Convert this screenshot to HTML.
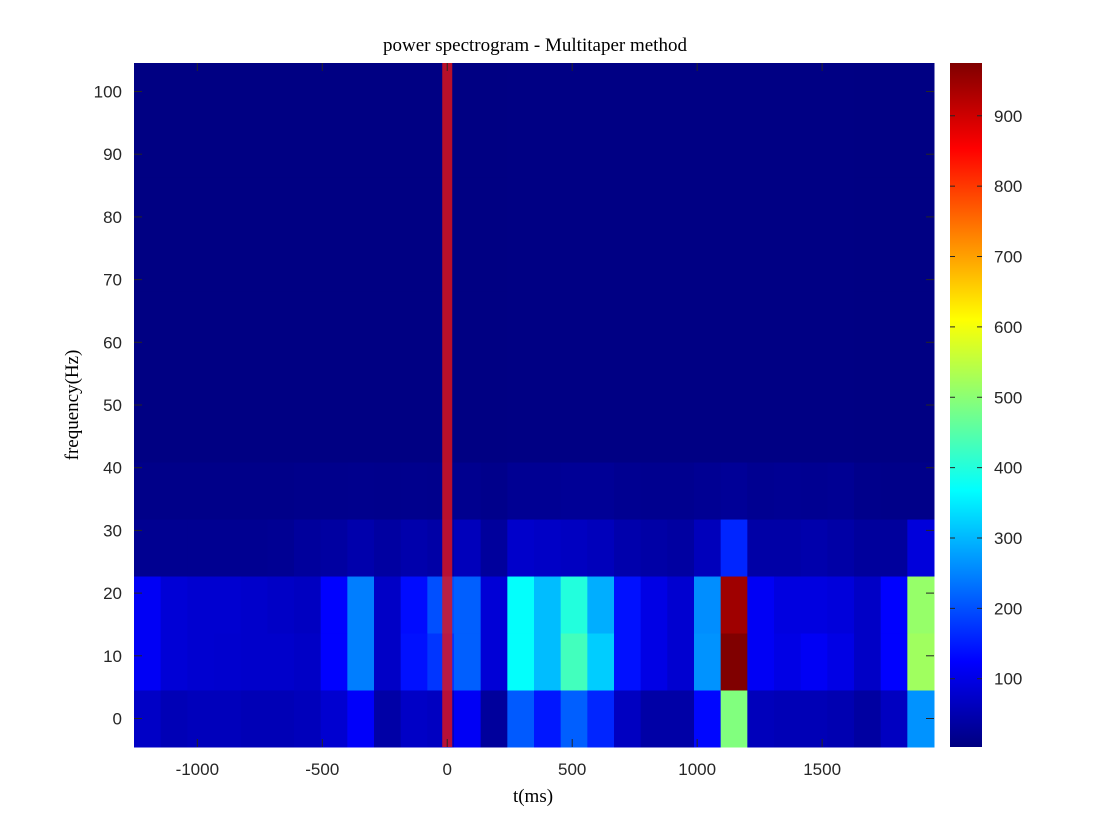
<!DOCTYPE html>
<html><head><meta charset="utf-8"><style>
html,body{margin:0;padding:0;background:#fff;}
svg{display:block;}
text{font-family:"Liberation Sans",sans-serif;fill:#262626;}
.serif{font-family:"Liberation Serif",serif;fill:#000;}
</style></head><body>
<svg id="chart" width="1120" height="840" viewBox="0 0 1120 840" xmlns="http://www.w3.org/2000/svg">
<text class="serif" x="535" y="51" text-anchor="middle" font-size="19">power spectrogram - Multitaper method</text>
<text class="serif" x="533" y="802" text-anchor="middle" font-size="19">t(ms)</text>
<text class="serif" transform="translate(78,405) rotate(-90)" text-anchor="middle" font-size="19">frequency(Hz)</text>
<g id="cells"></g>
<g id="axes"></g>
<g id="cbar"></g>
</svg>
<script>
// rows: frequency bins (Hz); columns: time bins (ms)
const freqs = [0, 9.09, 18.18, 27.27, 36.36, 45.45, 54.55, 63.64, 72.73, 81.82, 90.91, 100];
const times = Array.from({length:30},(_,i)=>-1200+i*106.7);
const row0 = [70,55,60,60,55,55,60,80,120,40,70,65,115,30,210,145,215,160,65,40,40,130,490,60,55,55,50,35,65,265];
const row1 = [115,85,80,78,75,75,70,125,245,70,140,175,215,85,370,305,430,320,140,100,80,265,975,115,100,115,100,70,125,520];
const row2 = [115,85,80,80,75,70,65,125,245,70,135,200,215,85,370,305,400,290,140,100,80,260,945,115,95,95,90,70,125,510];
const row3 = [20,20,20,20,20,22,30,35,45,35,45,40,60,30,75,70,65,60,45,40,35,60,160,40,40,45,40,30,30,90];
const row4 = [12,12,12,12,12,12,14,15,16,15,16,15,18,14,22,22,24,24,20,18,18,22,25,20,22,20,22,14,12,12];
const rowUpper = [6,6,6,6,6,6,6,6,6,6,6,6,6,6,7,7,7,7,7,7,7,7,7,7,7,7,7,6,6,6];
const rows = [row0,row1,row2,row3,row4,rowUpper,rowUpper,rowUpper,rowUpper,rowUpper,rowUpper,rowUpper];
const xTicks = [-1000,-500,0,500,1000,1500];
const yTicks = [0,10,20,30,40,50,60,70,80,90,100];
const cTicks = [100,200,300,400,500,600,700,800,900];
const eventTime = [0];
const cmin = 3, cmax = 975;

const NS = "http://www.w3.org/2000/svg";
const L=134, R=934, T=63, B=747;
const tStep = 106.7, fStep = 9.0909;
const tMin = times[0]-tStep/2, tMax = times[times.length-1]+tStep/2;
const fMin = freqs[0]-fStep/2, fMax = freqs[freqs.length-1]+fStep/2;
const xs = t => L + (t - tMin)/(tMax - tMin)*(R-L);
const ys = f => B - (f - fMin)/(fMax - fMin)*(B-T);
function jet(v){
  let f=(v-cmin)/(cmax-cmin); f=Math.max(0,Math.min(1,f));
  const c=x=>Math.round(255*Math.max(0,Math.min(1,x)));
  const r=c(Math.min(4*f-1.5,-4*f+4.5)), g=c(Math.min(4*f-0.5,-4*f+3.5)), b=c(Math.min(4*f+0.5,-4*f+2.5));
  return `rgb(${r},${g},${b})`;
}
function mk(tag,attrs,parent){const e=document.createElementNS(NS,tag);for(const k in attrs)e.setAttribute(k,attrs[k]);parent.appendChild(e);return e;}

const cells=document.getElementById('cells');
rows.forEach((row,ri)=>{
  row.forEach((v,ci)=>{
    const x0=xs(times[ci]-tStep/2), x1=xs(times[ci]+tStep/2);
    const y0=ys(freqs[ri]+fStep/2), y1=ys(freqs[ri]-fStep/2);
    const r=mk('rect',{x:x0,y:y0,width:x1-x0+0.5,height:y1-y0+0.5,fill:jet(v)},cells);
    
    
  });
});
eventTime.forEach(t=>{
  const l=mk('rect',{x:xs(t)-5,y:T,width:10,height:B-T,fill:'rgb(230,20,20)','fill-opacity':0.8},cells);
  
  
});

const ax=document.getElementById('axes');
xTicks.forEach(t=>{
  const x=xs(t);
  mk('line',{x1:x,y1:B,x2:x,y2:B-8,stroke:'#262626','stroke-width':1},ax);
  mk('line',{x1:x,y1:T,x2:x,y2:T+8,stroke:'#262626','stroke-width':1},ax);
  const tx=mk('text',{x:x,y:B+28,'text-anchor':'middle','font-size':17},ax);
  tx.textContent=t;
  
  
});
yTicks.forEach(f=>{
  const y=ys(f);
  mk('line',{x1:L,y1:y,x2:L+8,y2:y,stroke:'#262626','stroke-width':1},ax);
  mk('line',{x1:R,y1:y,x2:R-8,y2:y,stroke:'#262626','stroke-width':1},ax);
  const tx=mk('text',{x:L-12,y:y+6,'text-anchor':'end','font-size':17},ax);
  tx.textContent=f;
  
  
});

const cb=document.getElementById('cbar');
const CL=950, CR=982;
const cy = v => B - (v-cmin)/(cmax-cmin)*(B-T);
const defs=mk('defs',{},cb);
const grad=mk('linearGradient',{id:'jetg',x1:0,y1:1,x2:0,y2:0},defs);
for(let i=0;i<=32;i++){const f=i/32;mk('stop',{offset:f,'stop-color':jet(cmin+f*(cmax-cmin))},grad);}
const cbr=mk('rect',{x:CL,y:T,width:CR-CL,height:B-T,fill:'url(#jetg)'},cb);


cTicks.forEach(v=>{
  const y=cy(v);
  mk('line',{x1:CR,y1:y,x2:CR-5,y2:y,stroke:'#262626','stroke-width':1},cb);
  mk('line',{x1:CL,y1:y,x2:CL+5,y2:y,stroke:'#262626','stroke-width':1},cb);
  const tx=mk('text',{x:CR+12,y:y+6,'font-size':17},cb);
  tx.textContent=v;
  
  
});
</script>
</body></html>
